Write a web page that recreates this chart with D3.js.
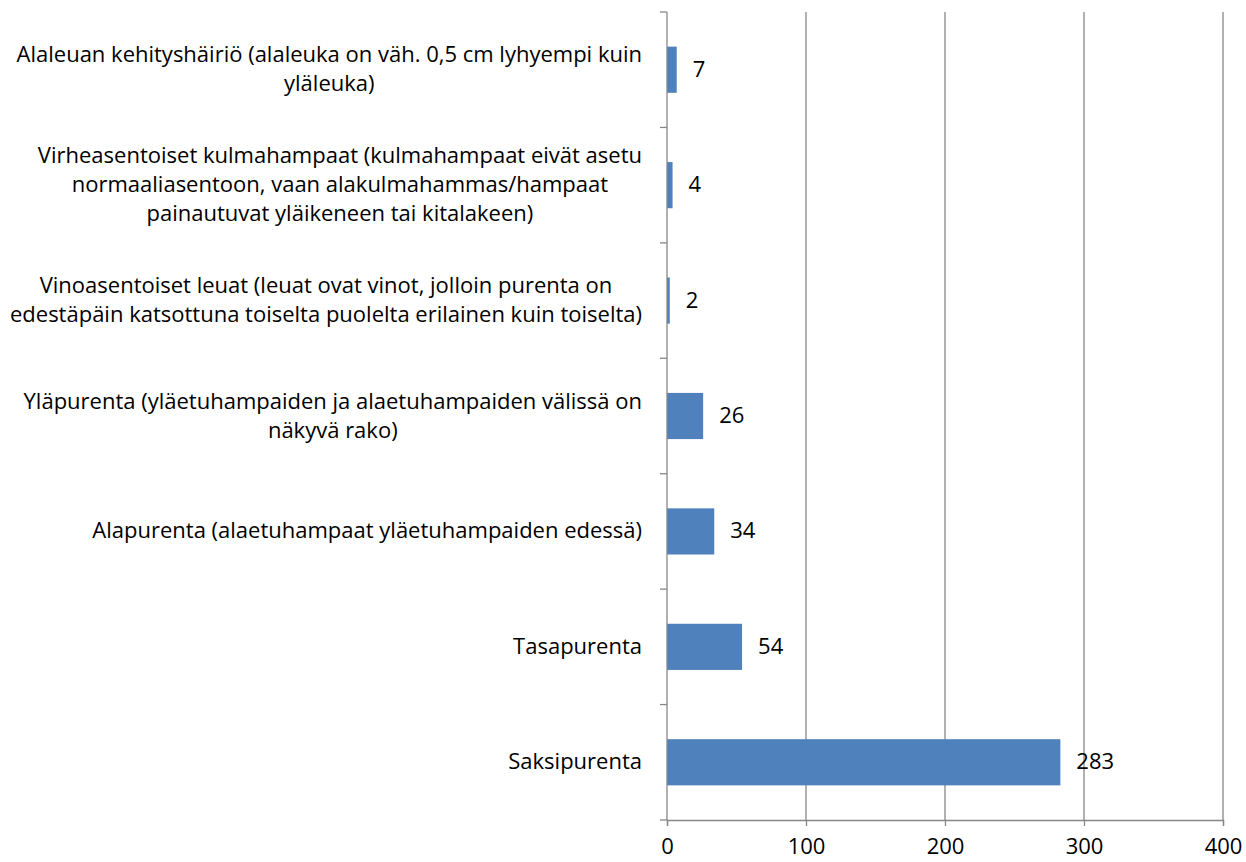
<html>
<script src="https://d3js.org/d3.v7.min.js"></script>
<style>
body { margin: 0; background: #fff; }
text { font-family: "Open Sans", "Noto Sans", sans-serif; font-size: 22px; fill: #000; }
</style>
<body>
<svg width="1246" height="862"></svg>
<script>
// categories, top to bottom, each split into the lines shown in the chart
var categories = [
  ["Alaleuan kehityshäiriö (alaleuka on väh. 0,5 cm lyhyempi kuin", "yläleuka)"],
  ["Virheasentoiset kulmahampaat (kulmahampaat eivät asetu", "normaaliasentoon, vaan alakulmahammas/hampaat", "painautuvat yläikeneen tai kitalakeen)"],
  ["Vinoasentoiset leuat (leuat ovat vinot, jolloin purenta on", "edestäpäin katsottuna toiselta puolelta erilainen kuin toiselta)"],
  ["Yläpurenta (yläetuhampaiden ja alaetuhampaiden välissä on", "näkyvä rako)"],
  ["Alapurenta (alaetuhampaat yläetuhampaiden edessä)"],
  ["Tasapurenta"],
  ["Saksipurenta"]
];
var values = [7, 4, 2, 26, 34, 54, 283];
var xTicks = [0, 100, 200, 300, 400];

var plotL = 667, plotR = 1223, plotT = 12, plotB = 820;
var svg = d3.select("svg");

var xs = d3.scaleLinear().domain([0, 400]).range([plotL, plotR]);
var ys = d3.scaleBand().domain(d3.range(categories.length)).range([plotT, plotB]).padding(0);
var barH = ys.bandwidth() * 0.4;

// gridlines
svg.append("g").selectAll("line")
  .data(xTicks.slice(1))
  .enter().append("line")
  .attr("x1", d => xs(d)).attr("x2", d => xs(d))
  .attr("y1", plotT).attr("y2", plotB)
  .attr("stroke", "#878787").attr("stroke-width", 1.3);

// bars
svg.append("g").selectAll("rect")
  .data(values)
  .enter().append("rect")
  .attr("x", xs(0))
  .attr("y", (d, i) => ys(i) + (ys.bandwidth() - barH) / 2)
  .attr("width", d => xs(d) - xs(0))
  .attr("height", barH)
  .attr("fill", "#4f81bd");

// x axis
var xAxis = svg.append("g").attr("transform", "translate(0," + plotB + ")")
  .call(d3.axisBottom(xs).tickValues(xTicks).tickSize(6).tickPadding(12).tickFormat(d3.format("d")));
xAxis.select(".domain").attr("stroke", "#878787").attr("stroke-width", 1.3);
xAxis.selectAll(".tick line").attr("stroke", "#878787").attr("stroke-width", 1.3);
xAxis.selectAll(".tick text").attr("fill", "#000");

// y axis line + ticks at band boundaries
svg.append("line")
  .attr("x1", plotL).attr("x2", plotL).attr("y1", plotT).attr("y2", plotB)
  .attr("stroke", "#878787").attr("stroke-width", 1.3);
var bounds = d3.range(categories.length + 1).map(i => plotT + i * ys.step());
svg.append("g").selectAll("line")
  .data(bounds)
  .enter().append("line")
  .attr("x1", plotL - 7).attr("x2", plotL)
  .attr("y1", d => d).attr("y2", d => d)
  .attr("stroke", "#878787").attr("stroke-width", 1.3);

// category labels: lines centred as a block, right edge at 642
var lineH = 29;
var lab = svg.append("g");
categories.forEach(function(lines, i) {
  var g = lab.append("g");
  var cy = ys(i) + ys.bandwidth() / 2;
  var t = g.selectAll("text").data(lines).enter().append("text")
    .attr("text-anchor", "middle")
    .attr("y", (d, j) => cy + (j - (lines.length - 1) / 2) * lineH + 7)
    .text(d => d);
  var w = d3.max(t.nodes(), n => n.getComputedTextLength());
  t.attr("x", 642 - w / 2);
});

// value labels
svg.append("g").selectAll("text")
  .data(values)
  .enter().append("text")
  .attr("x", d => xs(d) + 16)
  .attr("y", (d, i) => ys(i) + ys.bandwidth() / 2 + 7)
  .text(d => d);
</script>
</body>
</html>
